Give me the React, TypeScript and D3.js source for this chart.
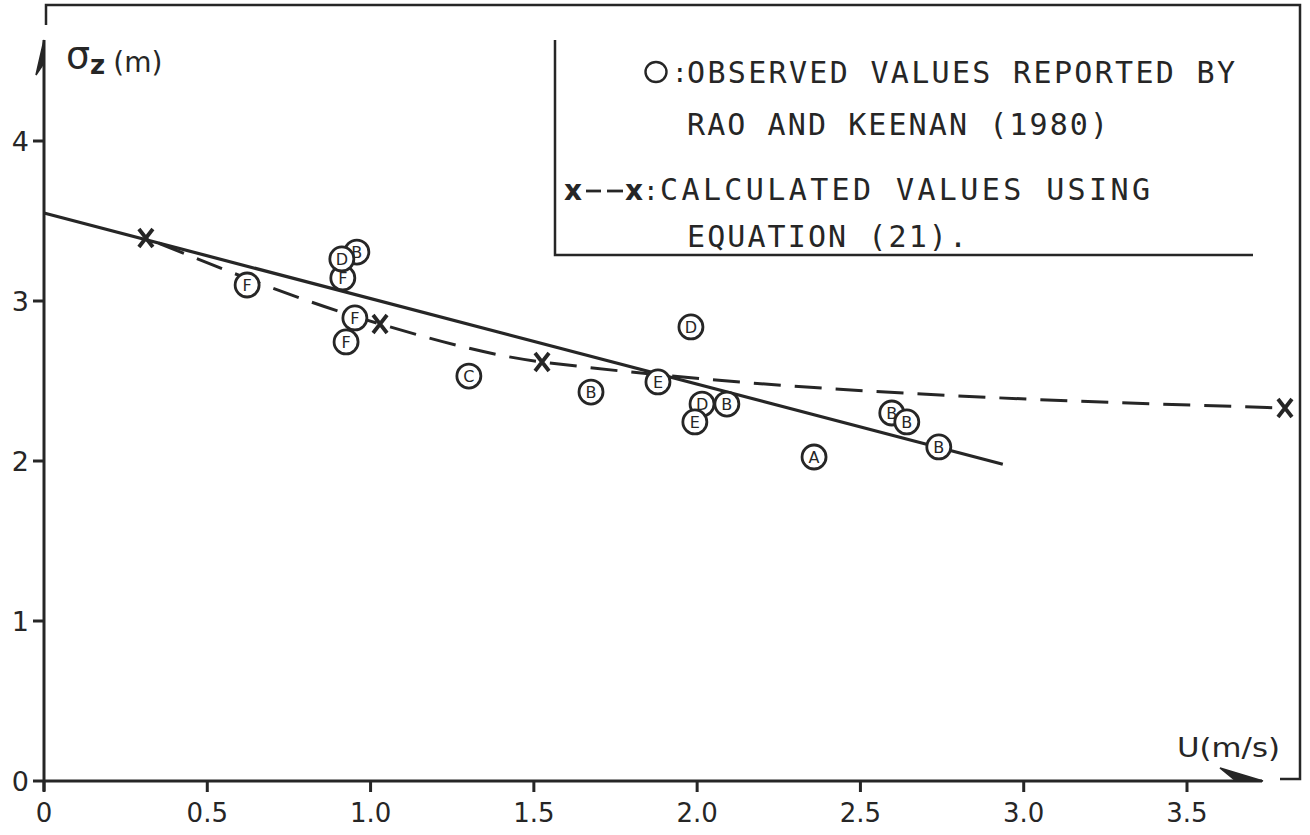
import React from "react";
import * as d3 from "d3";

// ---- data ----
const obsU = [0.958, 0.915, 0.912, 0.622, 0.952, 0.925, 1.301, 1.675, 1.88, 1.981, 2.015, 1.993, 2.091, 2.358, 2.596, 2.642, 2.74];
const obsSigma = [3.306, 3.144, 3.263, 3.1, 2.894, 2.744, 2.531, 2.431, 2.494, 2.838, 2.356, 2.244, 2.356, 2.025, 2.3, 2.244, 2.088];
const obsClass = ["B", "F", "D", "F", "F", "F", "C", "B", "E", "D", "D", "E", "B", "A", "B", "B", "B"];

const calcU = [0.312, 1.029, 1.525, 3.8];
const calcSigma = [3.394, 2.856, 2.619, 2.331];

const fitU = [0, 2.936];
const fitSigma = [3.55, 1.98];

const xTicks = [0, 0.5, 1.0, 1.5, 2.0, 2.5, 3.0, 3.5];
const xTickLabels = ["0", "0.5", "1.0", "1.5", "2.0", "2.5", "3.0", "3.5"];
const yTicks = [0, 1, 2, 3, 4];
const yTickLabels = ["0", "1", "2", "3", "4"];

const legendLines = [
  "OBSERVED VALUES REPORTED BY",
  "RAO AND KEENAN (1980)",
  "CALCULATED VALUES USING",
  "EQUATION (21).",
];

const INK = "#262626";

export default function App() {
  const W = 1310;
  const H = 835;
  const x = d3.scaleLinear().domain([0, 3.5]).range([44, 1187]);
  const y = d3.scaleLinear().domain([0, 4]).range([781, 141]);

  const fitPath = d3
    .line<number>()
    .x((_, i) => x(fitU[i]))
    .y((_, i) => y(fitSigma[i]))(fitU) as string;

  const calcPath = d3
    .line<number>()
    .x((_, i) => x(calcU[i]))
    .y((_, i) => y(calcSigma[i]))
    .curve(d3.curveMonotoneX)(calcU) as string;

  const x0 = x(0);
  const y0 = y(0);
  const mono = "'DejaVu Sans Mono', 'Liberation Mono', monospace";
  const sans = "'DejaVu Sans', 'Liberation Sans', sans-serif";

  return (
    <svg
      width={W}
      height={H}
      viewBox={`0 0 ${W} ${H}`}
      style={{ position: "absolute", left: 0, top: 0, background: "#fff" }}
    >
      <rect x={0} y={0} width={W} height={H} fill="#fff" />

      {/* outer frame */}
      <path d={`M46,25 V5 H1300 V779 H1280`} fill="none" stroke={INK} strokeWidth={2.5} />

      {/* y axis */}
      <line x1={x0} y1={y0 + 10} x2={x0} y2={40} stroke={INK} strokeWidth={3} />
      <path d={`M${x0},40 L${x0 - 8},75 L${x0},63 Z`} fill={INK} stroke={INK} strokeWidth={1.5} />
      {/* x axis */}
      <line x1={x0} y1={y0} x2={1262} y2={y0} stroke={INK} strokeWidth={3} />
      <path d={`M1263,${y0} L1220,${y0 - 13} L1236,${y0} Z`} fill={INK} stroke={INK} strokeWidth={1.5} />

      {/* x ticks */}
      {xTicks.map((t, i) => (
        <g key={"xt" + i}>
          <line x1={x(t)} y1={y0} x2={x(t)} y2={y0 + 11} stroke={INK} strokeWidth={3} />
          <text
            x={x(t)}
            y={822}
            textAnchor="middle"
            fontFamily={sans}
            fontSize={26}
            fill={INK}
          >
            {xTickLabels[i]}
          </text>
        </g>
      ))}
      {/* y ticks */}
      {yTicks.map((t, i) => (
        <g key={"yt" + i}>
          <line x1={x0 - 11} y1={y(t)} x2={x0} y2={y(t)} stroke={INK} strokeWidth={3} />
          <text
            x={29}
            y={y(t) + 10}
            textAnchor="end"
            fontFamily={sans}
            fontSize={27}
            fill={INK}
          >
            {yTickLabels[i]}
          </text>
        </g>
      ))}

      {/* axis titles */}
      <text x={66} y={68} fontFamily={sans} fill={INK}>
        <tspan fontSize={38}>σ</tspan>
        <tspan fontSize={26} dy={6} fontWeight="bold">z</tspan>
        <tspan fontSize={28} dy={-2} dx={8}>(m)</tspan>
      </text>
      <text
        x={1177}
        y={757}
        fontFamily={sans}
        fontSize={27}
        fill={INK}
        textLength={103}
        lengthAdjust="spacingAndGlyphs"
      >
        U(m/s)
      </text>

      {/* legend box */}
      <path d={`M555,40 V255 H1253`} fill="none" stroke={INK} strokeWidth={2.5} />
      <ellipse cx={656} cy={72} rx={10.5} ry={10} fill="none" stroke={INK} strokeWidth={2.4} />
      <text x={672} y={82} fontFamily={mono} fontSize={26} fill={INK}>:</text>
      <text x={687} y={83} fontFamily={mono} fontSize={30} fill={INK} textLength={548} lengthAdjust="spacing">
        {legendLines[0]}
      </text>
      <text x={687} y={135} fontFamily={mono} fontSize={30} fill={INK} textLength={421} lengthAdjust="spacing">
        {legendLines[1]}
      </text>
      <text x={564} y={200} fontFamily={sans} fontWeight="bold" fontSize={28} fill={INK}>x</text>
      <line x1={586} y1={191} x2={601} y2={191} stroke={INK} strokeWidth={2.8} />
      <line x1={607} y1={191} x2={623} y2={191} stroke={INK} strokeWidth={2.8} />
      <text x={625} y={200} fontFamily={sans} fontWeight="bold" fontSize={28} fill={INK}>x</text>
      <text x={643} y={200} fontFamily={mono} fontSize={26} fill={INK}>:</text>
      <text x={660} y={200} fontFamily={mono} fontSize={30} fill={INK} textLength={490} lengthAdjust="spacing">
        {legendLines[2]}
      </text>
      <text x={687} y={247} fontFamily={mono} fontSize={30} fill={INK} textLength={280} lengthAdjust="spacing">
        {legendLines[3]}
      </text>

      {/* fitted solid line */}
      <path d={fitPath} fill="none" stroke={INK} strokeWidth={3.2} />
      {/* calculated dashed curve */}
      <path d={calcPath} fill="none" stroke={INK} strokeWidth={3} strokeDasharray="27 14" strokeDashoffset={-14} />
      {calcU.map((u, i) => {
        const cx = x(u);
        const cy = y(calcSigma[i]);
        return (
          <path
            key={"cx" + i}
            d={`M${cx - 7},${cy - 9} L${cx + 7},${cy + 9} M${cx + 7},${cy - 9} L${cx - 7},${cy + 9}`}
            stroke={INK}
            strokeWidth={3.8}
            fill="none"
          />
        );
      })}

      {/* observed circles */}
      {obsU.map((u, i) => {
        const cx = x(u);
        const cy = y(obsSigma[i]);
        return (
          <g key={"ob" + i}>
            <circle cx={cx} cy={cy} r={12} fill="#fff" stroke={INK} strokeWidth={2.8} />
            <text
              x={cx}
              y={cy + 6}
              textAnchor="middle"
              fontFamily={sans}
              fontSize={16}
              fill={INK}
            >
              {obsClass[i]}
            </text>
          </g>
        );
      })}
    </svg>
  );
}
